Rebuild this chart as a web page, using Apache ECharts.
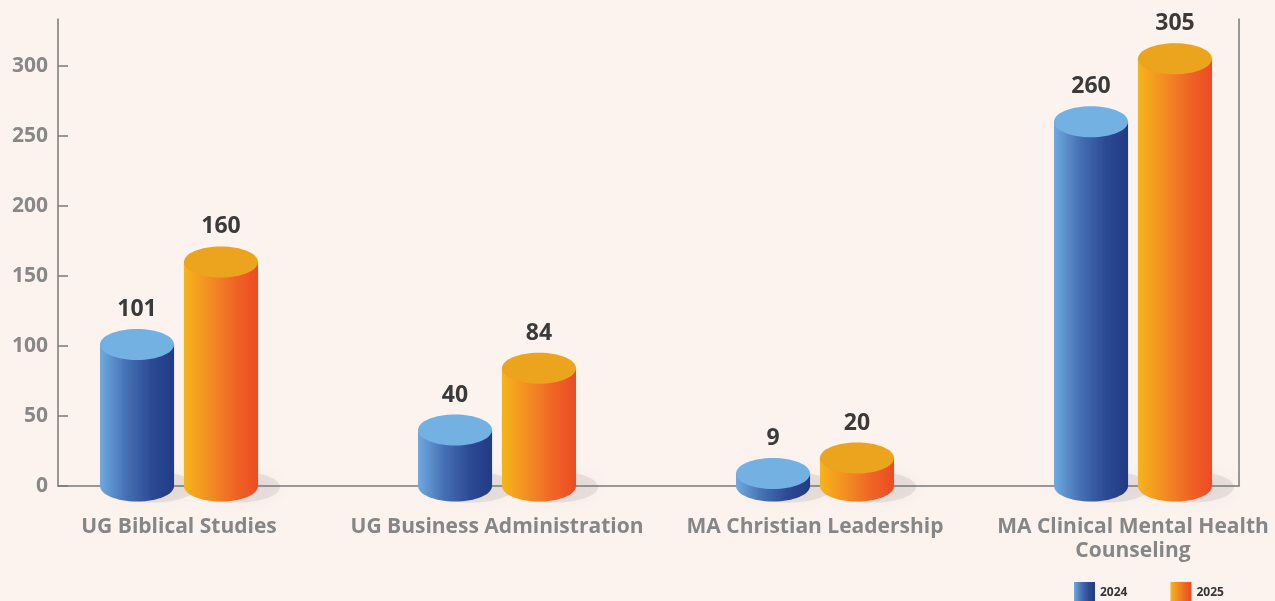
<!DOCTYPE html>
<html>
<head>
<meta charset="utf-8">
<script src="https://cdn.jsdelivr.net/npm/echarts@6/dist/echarts.min.js"></script>
<style>
  html, body { margin: 0; padding: 0; background: #fcf3ef; }
  #chart { width: 1275px; height: 601px; }
</style>
</head>
<body>
<div id="chart"></div>
<script>
// data
const categories = [
  "UG Biblical Studies",
  "UG Business Administration",
  "MA Christian Leadership",
  "MA Clinical Mental Health\nCounseling"
];
const seriesNames = ["2024", "2025"];
const values2024 = [101, 40, 9, 260];
const values2025 = [160, 84, 20, 305];
const yMax = 333.4;
const yStep = 50;

const blueBody = { type: "linear", x: 0, y: 0, x2: 1, y2: 0, colorStops: [
  { offset: 0, color: "#6eaadf" }, { offset: 0.35, color: "#4670b4" },
  { offset: 0.7, color: "#2c4a94" }, { offset: 1, color: "#223a84" }] };
const orangeBody = { type: "linear", x: 0, y: 0, x2: 1, y2: 0, colorStops: [
  { offset: 0, color: "#f5b519" }, { offset: 0.35, color: "#f38d22" },
  { offset: 0.7, color: "#ef6426" }, { offset: 1, color: "#ec4b24" }] };

function cylinder(side, body, cap) {
  return function (params, api) {
    const cat = api.value(0);
    const v = api.value(1);
    const top = api.coord([cat, v]);
    const base = api.coord([cat, 0]);
    const band = api.size([1, 0])[0];
    const w = band * 0.233;
    const cx = top[0] + side * band * 0.132;
    const rx = w / 2, ry = 15.5;
    return {
      type: "group",
      children: [
        { type: "ellipse", shape: { cx: cx + 16, cy: base[1] + 1, rx: rx + 6, ry: ry },
          style: { fill: "rgba(120,110,110,0.14)", shadowBlur: 16, shadowColor: "rgba(120,110,110,0.35)" } },
        { type: "ellipse", shape: { cx: cx, cy: base[1], rx: rx, ry: ry }, style: { fill: body } },
        { type: "rect", shape: { x: cx - rx, y: top[1], width: w, height: base[1] - top[1] }, style: { fill: body } },
        { type: "ellipse", shape: { cx: cx, cy: top[1], rx: rx, ry: ry }, style: { fill: cap } },
        { type: "text", style: {
            text: String(v), x: cx, y: top[1] - ry - 8,
            align: "center", verticalAlign: "bottom",
            font: 'bold 23px "Open Sans"', fill: "#3a3a3a" } }
      ]
    };
  };
}

// bar grid is wider than the page; a value axis lets the bands reach 318px
const barGridLeft = 20;
const bandPx = 318;
const xMax = -0.5 + (1275 - barGridLeft) / bandPx;

const chart = echarts.init(document.getElementById("chart"));
chart.setOption({
  backgroundColor: "#fcf3ef",
  animation: false,
  legend: {
    data: seriesNames,
    left: 1069,
    top: 577,
    itemWidth: 21,
    itemHeight: 21,
    itemGap: 43,
    icon: "rect",
    textStyle: { fontSize: 12, fontWeight: "bold", color: "#333", fontFamily: "Open Sans" }
  },
  grid: [
    { left: 58, right: 36, top: 19, bottom: 115 },
    { left: barGridLeft, right: 0, top: 19, bottom: 115 }
  ],
  xAxis: [
    {
      gridIndex: 0, type: "category", data: categories,
      axisLine: { lineStyle: { color: "#7a7a7a", width: 1.5 } },
      axisTick: { show: false }, axisLabel: { show: false }
    },
    {
      gridIndex: 1, type: "value", min: -0.5, max: xMax,
      minInterval: 1, maxInterval: 1,
      splitLine: { show: false },
      axisLine: { show: false }, axisTick: { show: false },
      axisLabel: {
        margin: 29, fontSize: 21, fontWeight: "bold", lineHeight: 24,
        color: "#868686", fontFamily: "Open Sans",
        showMinLabel: false, showMaxLabel: false,
        formatter: function (v) {
          return Number.isInteger(v) && categories[v] ? categories[v] : "";
        }
      }
    }
  ],
  yAxis: [
    {
      gridIndex: 0, type: "value", min: 0, max: yMax, interval: yStep,
      splitLine: { show: false },
      axisLine: { show: true, lineStyle: { color: "#7a7a7a", width: 1.5 } },
      axisTick: { show: true, inside: true, length: 10, lineStyle: { color: "#7a7a7a", width: 1.5 } },
      axisLabel: {
        showMaxLabel: false, margin: 10, fontSize: 21, fontWeight: "bold",
        color: "#888", fontFamily: "Open Sans"
      }
    },
    {
      gridIndex: 0, type: "value", position: "right", min: 0, max: yMax,
      splitLine: { show: false },
      axisLine: { show: true, lineStyle: { color: "#7a7a7a", width: 1.5 } },
      axisTick: { show: false }, axisLabel: { show: false }
    },
    {
      gridIndex: 1, type: "value", min: 0, max: yMax, show: false
    }
  ],
  series: [
    {
      name: seriesNames[0], type: "custom", xAxisIndex: 1, yAxisIndex: 2,
      itemStyle: { color: blueBody },
      renderItem: cylinder(-1, blueBody, "#74b1e3"),
      data: values2024.map((v, i) => [i, v])
    },
    {
      name: seriesNames[1], type: "custom", xAxisIndex: 1, yAxisIndex: 2,
      itemStyle: { color: orangeBody },
      renderItem: cylinder(1, orangeBody, "#eca31e"),
      data: values2025.map((v, i) => [i, v])
    }
  ]
});
</script>
</body>
</html>
